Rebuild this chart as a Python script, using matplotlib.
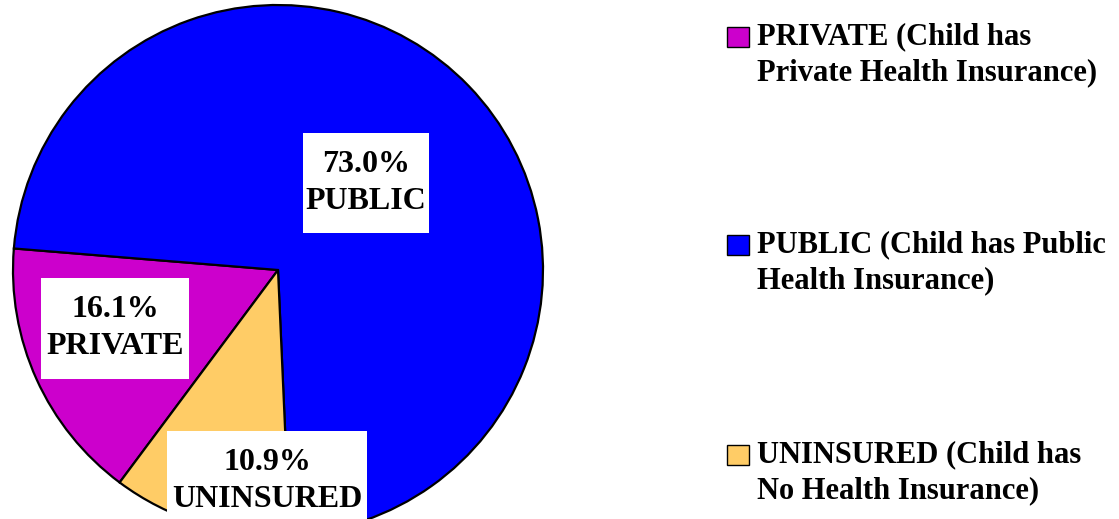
import matplotlib
matplotlib.use("Agg")
import matplotlib.pyplot as plt
from matplotlib.patches import Rectangle

# Health insurance coverage of children
categories = ["PRIVATE", "PUBLIC", "UNINSURED"]
shares = [16.1, 73.0, 10.9]
legend_labels = [
    "PRIVATE (Child has\nPrivate Health Insurance)",
    "PUBLIC (Child has Public\nHealth Insurance)",
    "UNINSURED (Child has\nNo Health Insurance)",
]
colors = ["#CC00CC", "#0000FF", "#FFCC66"]

W, H = 1119, 519
fig = plt.figure(figsize=(W / 100, H / 100), dpi=100)
ax = fig.add_axes([0, 0, 1, 1])

wedges, _ = ax.pie(
    shares,
    colors=colors,
    startangle=233.3,
    counterclock=False,
    center=(278, H - 270),
    radius=265,
    wedgeprops=dict(edgecolor="black", linewidth=1.6),
)
ax.set_xlim(0, W)
ax.set_ylim(0, H)
ax.set_aspect("auto")
ax.axis("off")

serif = ["Liberation Serif", "DejaVu Serif"]

# in-slice value labels on white boxes: (text centre x, y, box width, height)
label_boxes = [
    (115, 328, 148, 101),
    (366, 183, 126, 100),
    (267, 481, 200, 100),
]
box_tops = [278, 133, 431]
for name, val, (x, y, bw, bh), top in zip(categories, shares, label_boxes, box_tops):
    ax.add_patch(Rectangle((x - bw / 2, H - top - bh), bw, bh,
                           facecolor="white", edgecolor="none", zorder=4))
    ax.text(
        x, H - y, f"{val:.1f}%\n{name}",
        ha="center", va="center", family=serif, fontweight="bold",
        fontsize=23, linespacing=1.38, zorder=5,
    )

# legend drawn as swatches with two-line captions
legend_y = [37, 245, 455]
for lab, col, y in zip(legend_labels, colors, legend_y):
    ax.add_patch(Rectangle((727, H - y - 10), 22, 20, facecolor=col,
                           edgecolor="black", linewidth=1.0, zorder=5))
    ax.text(757, H - y - 18, lab, ha="left", va="center", family=serif,
            fontweight="bold", fontsize=22, linespacing=1.3)

fig.savefig("out.png", dpi=100, facecolor="white")
